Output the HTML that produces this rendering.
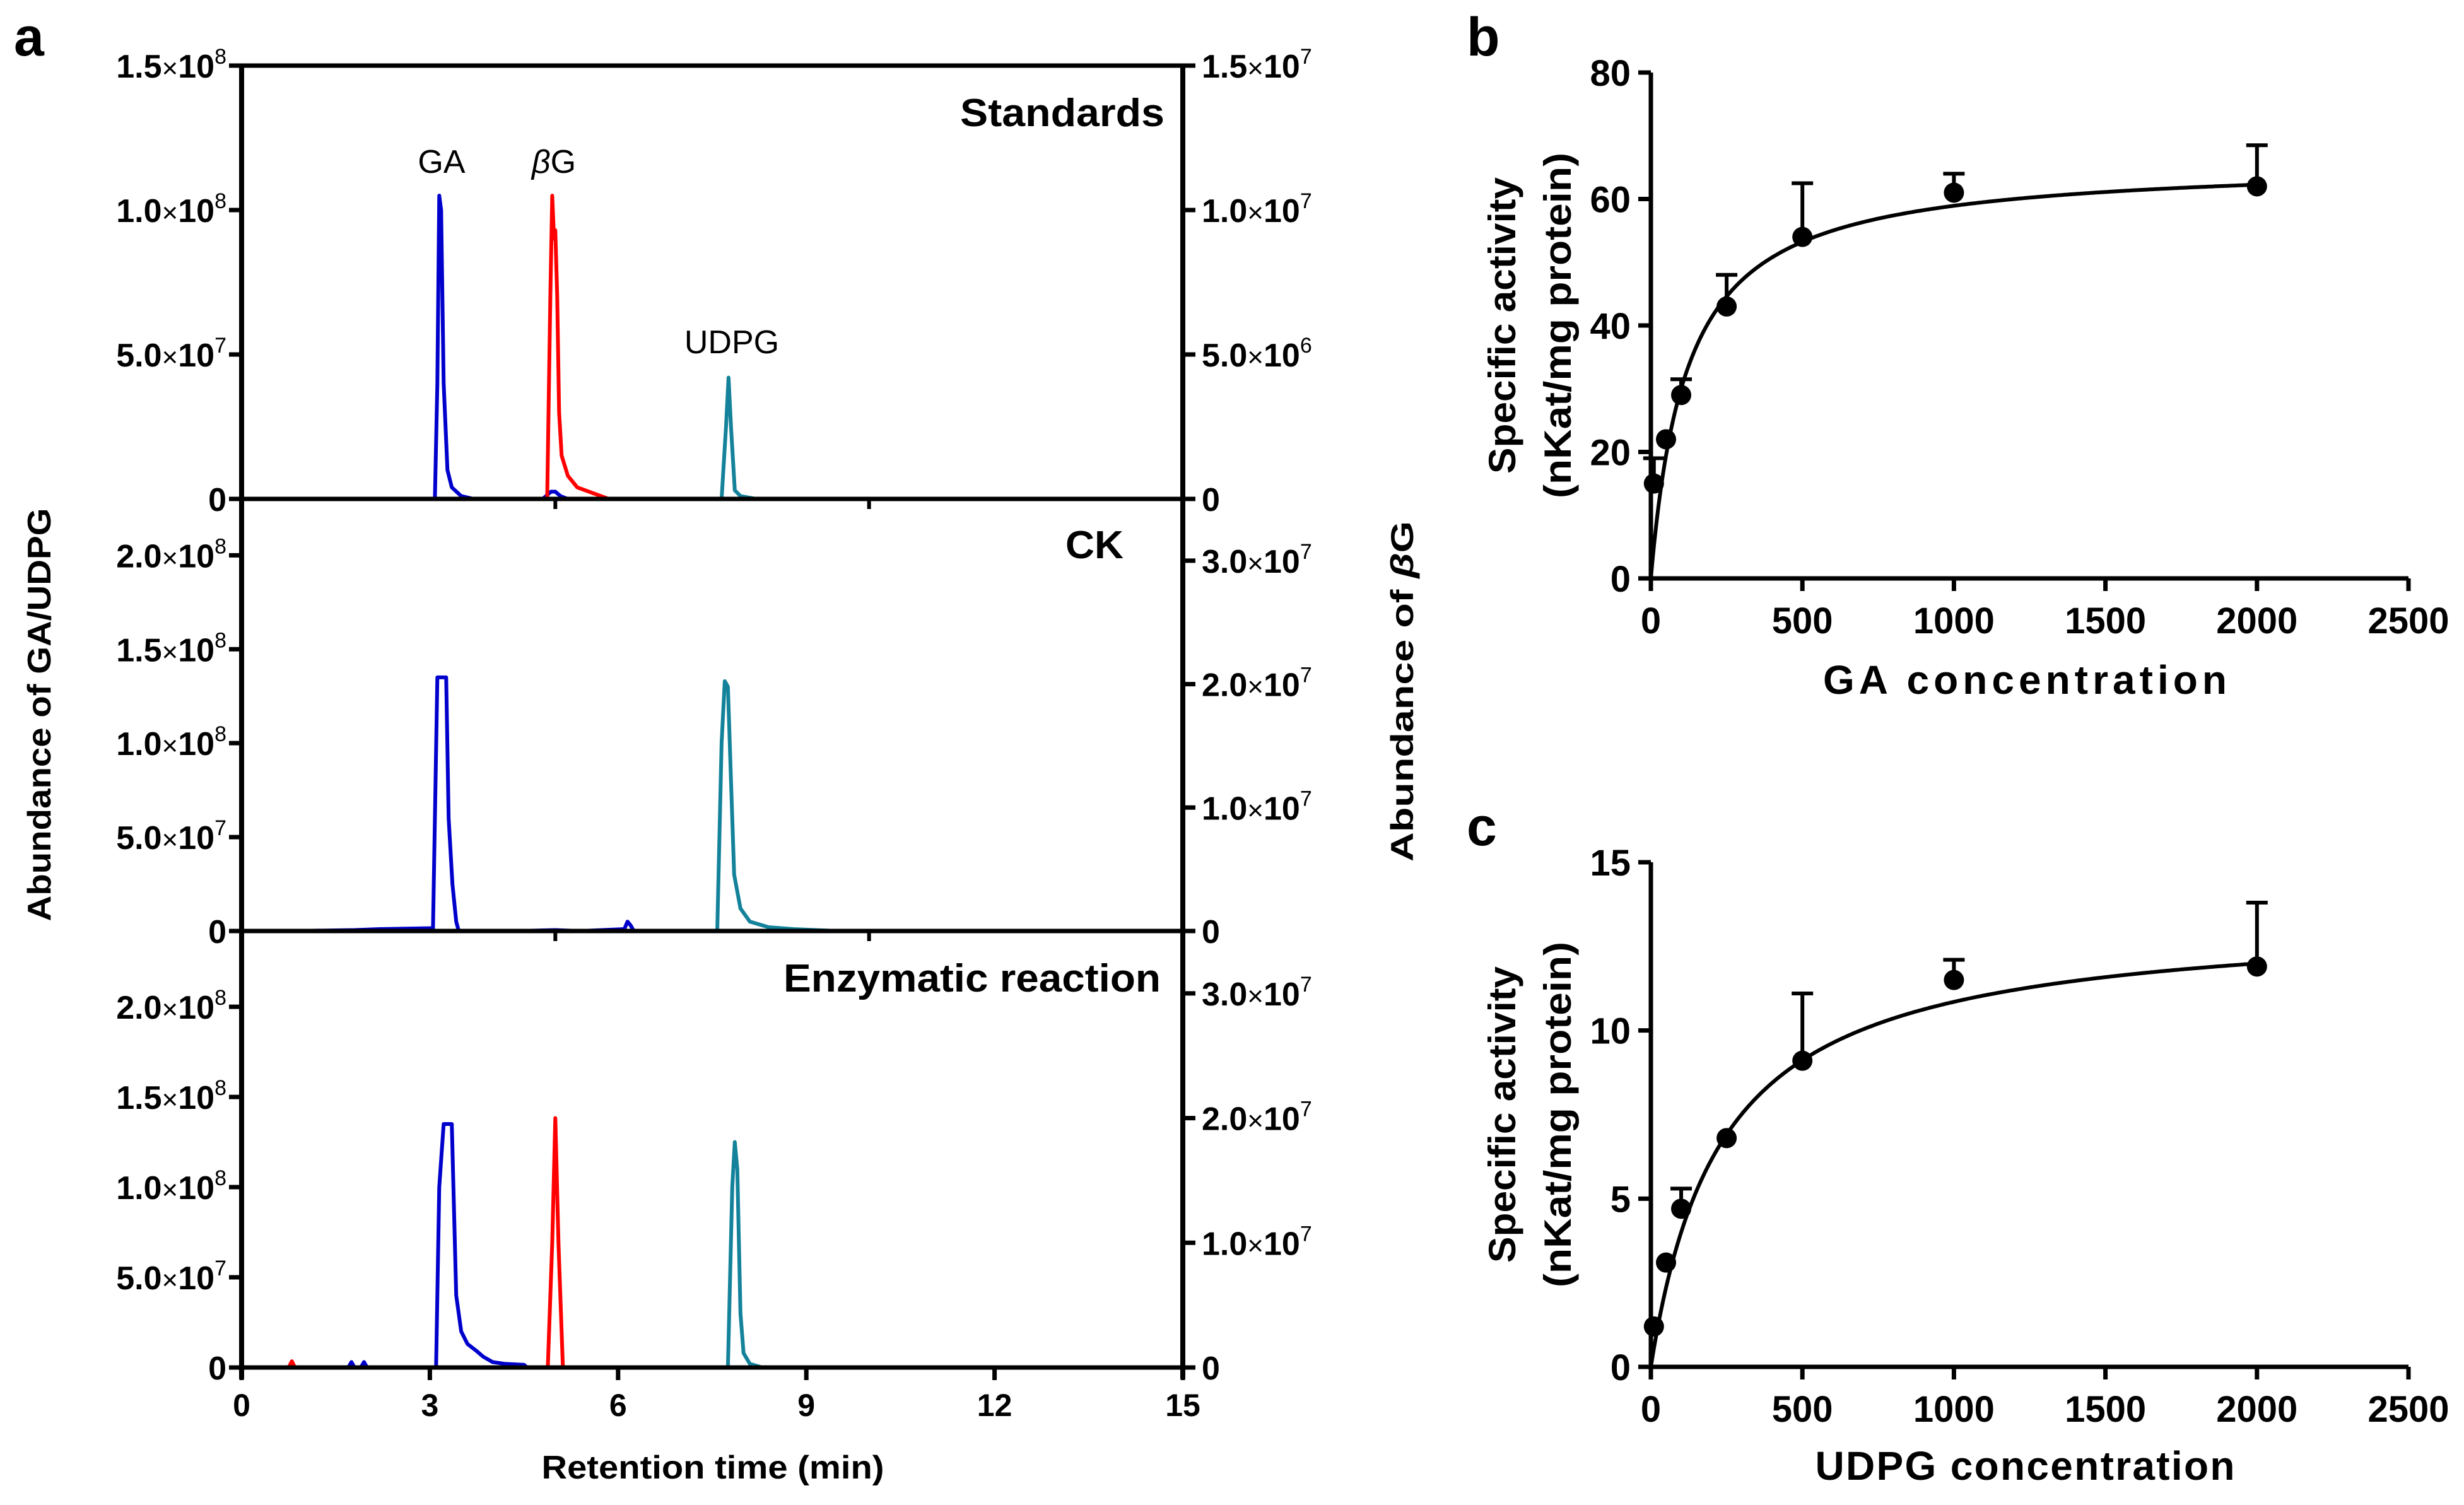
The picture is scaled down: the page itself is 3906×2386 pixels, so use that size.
<!DOCTYPE html>
<html><head><meta charset="utf-8"><style>
html,body{margin:0;padding:0;background:#fff}
svg{display:block}
text{font-family:"Liberation Sans",Arial,sans-serif}
</style></head><body>
<svg id="fig" width="3906" height="2386" viewBox="0 0 3906 2386" xmlns="http://www.w3.org/2000/svg">
<rect width="3906" height="2386" fill="#fff"/>
<g id="pa"></g>
<g id="pb"></g>
<g id="pc"></g>
</svg>
<script>
// ===== Panel a data (retention time min, abundance) =====
const timeTicks = [0,3,6,9,12,15];
const stdLeftTicks = [0,5e7,1e8,1.5e8];
const stdRightTicks = [0,5e6,1e7,1.5e7];
const ckLeftTicks = [0,5e7,1e8,1.5e8,2e8];
const ckRightTicks = [0,1e7,2e7,3e7];
const enzLeftTicks = [0,5e7,1e8,1.5e8,2e8];
const enzRightTicks = [0,1e7,2e7,3e7];
// Standards
const stdGA_t = [0,3.08,3.12,3.15,3.18,3.22,3.28,3.35,3.5,3.7,4.8,4.93,5.0,5.08,5.2,6];
const stdGA_v = [0,0,4e7,1.05e8,1.0e8,4e7,1e7,4e6,1e6,0,0,2.5e6,2.5e6,1e6,0,0];
const stdBG_t = [4.8,4.87,4.92,4.95,4.98,5.0,5.03,5.06,5.1,5.2,5.35,5.6,5.85,6.0];
const stdBG_v = [0,0,7e6,1.05e7,9e6,9.3e6,7e6,3e6,1.5e6,8e5,4e5,2e5,0,0];
const stdUD_t = [7.5,7.65,7.72,7.76,7.8,7.86,7.95,8.2];
const stdUD_v = [0,0,2.5e7,4.2e7,2.5e7,3e6,1e6,0];
// CK
const ckGA_t = [0,0.7,0.8,1.8,2.2,3.05,3.12,3.16,3.26,3.3,3.36,3.42,3.46,4.4,5.0,5.4,6.1,6.15,6.2,6.25,7.0];
const ckGA_v = [0,0,0,5e5,1e6,1.5e6,1.35e8,1.35e8,1.35e8,6e7,2.5e7,5e6,0,0,5e5,0,1e6,5e6,3e6,0,0];
const ckUD_t = [7.4,7.58,7.65,7.7,7.75,7.8,7.85,7.95,8.1,8.4,8.8,9.5];
const ckUD_v = [0,0,1.0e8,1.33e8,1.3e8,8e7,3e7,1.2e7,5e6,2e6,1e6,0];
// Enzymatic reaction
const enGA_t = [0,1.7,1.75,1.8,1.9,1.95,2.0,3.1,3.15,3.22,3.35,3.42,3.5,3.6,3.75,3.85,4.0,4.2,4.5,4.55,7.8];
const enGA_v = [0,0,3e6,0,0,3e6,0,0,1.0e8,1.35e8,1.35e8,4e7,2e7,1.3e7,9e6,6e6,3e6,2e6,1.5e6,0,0];
const enBG_t = [0.75,0.8,0.85,4.88,4.95,5.0,5.05,5.12,5.2];
const enBG_v = [0,5e5,0,0,1e7,2.0e7,1e7,0,0];
const enUD_t = [7.6,7.75,7.82,7.86,7.9,7.95,8.0,8.1,8.3,13.0];
const enUD_v = [0,0,1.0e8,1.25e8,1.1e8,3e7,8e6,2e6,0,0];

// ===== Panel b / c data =====
const concX = [10,50,100,250,500,1000,2000];
const gaActivity = [15,22,29,43,54,61,62];
const gaErrTop = [19,22,31.5,48,62.5,64,68.5];
const udpgActivity = [1.2,3.1,4.7,6.8,9.1,11.5,11.9];
const udpgErrTop = [1.2,3.1,5.3,7.0,11.1,12.1,13.8];
const gaFit = [66,120];     // Vmax, Km
const udpgFit = [13.4,235];
const concTicks = [0,500,1000,1500,2000,2500];
const gaYTicks = [0,20,40,60,80];
const udpgYTicks = [0,5,10,15];

const NS='http://www.w3.org/2000/svg';
function mk(parent,tag,attrs,txt){const e=document.createElementNS(NS,tag);for(const k in attrs)e.setAttribute(k,attrs[k]);if(txt!==undefined)e.textContent=txt;parent.appendChild(e);return e;}
function fmtSci(v){if(v===0)return null;const ex=Math.floor(Math.log10(v)+1e-9);const m=(v/Math.pow(10,ex)).toFixed(1);return [m,ex];}

// ===== Panel a =====
const pa=document.getElementById('pa');
const AX0=383, AX1=1875;
const xT=t=>AX0+(t/15)*(AX1-AX0);
const panels=[
 {name:'standards',top:104,bot:791,lmax:1.5e8,rmax:1.5e7,lt:stdLeftTicks,rt:stdRightTicks,
  series:[[stdGA_t,stdGA_v,'#0000cc','L','ga-trace'],[stdBG_t,stdBG_v,'#ff0000','R','beta-g-trace'],[stdUD_t,stdUD_v,'#14829a','L','udpg-trace']]},
 {name:'ck',top:791,bot:1476,lmax:2.3e8,rmax:3.5e7,lt:ckLeftTicks,rt:ckRightTicks,
  series:[[ckGA_t,ckGA_v,'#0000cc','L','ga-trace'],[ckUD_t,ckUD_v,'#14829a','L','udpg-trace']]},
 {name:'enzymatic',top:1476,bot:2168,lmax:2.42e8,rmax:3.5e7,lt:enzLeftTicks,rt:enzRightTicks,
  series:[[enUD_t,enUD_v,'#14829a','L','udpg-trace'],[enBG_t,enBG_v,'#ff0000','R','beta-g-trace'],[enGA_t,enGA_v,'#0000cc','L','ga-trace']]}
];
function sciLabel(g,x,y,anchor,v,name){
  const t=mk(g,'text',{x:x,y:y,'text-anchor':anchor,'font-size':52,'font-weight':'bold'});
  
  
  const f=fmtSci(v);
  if(!f){t.textContent='0';}else{mk(t,'tspan',{},f[0]);mk(t,'tspan',{'font-weight':'normal','font-size':44},'×');mk(t,'tspan',{},'10');mk(t,'tspan',{dy:-22,'font-size':34,'font-weight':'normal'},String(f[1]));}
}
panels.forEach(p=>{
  const g=mk(pa,'g',{});
  
  
  const yL=v=>p.bot-(v/p.lmax)*(p.bot-p.top);
  const yR=v=>p.bot-(v/p.rmax)*(p.bot-p.top);
  p.series.forEach(s=>{
    const [ts,vs,col,ax,nm]=s;
    const pts=ts.map((t,i)=>xT(t).toFixed(1)+','+(ax==='L'?yL(vs[i]):yR(vs[i])).toFixed(1)).join(' ');
    const pl=mk(g,'polyline',{points:pts,fill:'none',stroke:col,'stroke-width':6,'stroke-linejoin':'round'});
    
    
  });
  p.lt.forEach(v=>{
    const y=yL(v);
    mk(g,'line',{x1:AX0-20,x2:AX0,y1:y,y2:y,stroke:'#000','stroke-width':7});
    sciLabel(g,AX0-24,y+19,'end',v,'left-tick-label');
  });
  p.rt.forEach(v=>{
    const y=yR(v);
    mk(g,'line',{x1:AX1,x2:AX1+20,y1:y,y2:y,stroke:'#000','stroke-width':7});
    sciLabel(g,AX1+30,y+19,'start',v,'right-tick-label');
  });
  mk(g,'line',{x1:AX0-20,x2:AX1+20,y1:p.bot,y2:p.bot,stroke:'#000','stroke-width':7});
  if(p.name!=='enzymatic'){
    [5,10].forEach(t=>mk(g,'line',{x1:xT(t),x2:xT(t),y1:p.bot,y2:p.bot+16,stroke:'#000','stroke-width':6}));
  }
});
mk(pa,'line',{x1:AX0,x2:AX1,y1:104,y2:104,stroke:'#000','stroke-width':7});
mk(pa,'line',{x1:AX0,x2:AX0,y1:101,y2:2186,stroke:'#000','stroke-width':8});
mk(pa,'line',{x1:AX1,x2:AX1,y1:101,y2:2186,stroke:'#000','stroke-width':8});
timeTicks.forEach(t=>{
  mk(pa,'line',{x1:xT(t),x2:xT(t),y1:2168,y2:2188,stroke:'#000','stroke-width':7});
  const tx=mk(pa,'text',{x:xT(t),y:2245,'text-anchor':'middle','font-size':50,'font-weight':'bold'},String(t));
  
  
});
</script>
<script>
// ===== Panels b and c =====
function kinetic(gid,top,bot,ymax,yTicks,xs,ys,errs,fit,xtitle,titleY,titleW,letter,letterY){
  const g=document.getElementById(gid);
  const X0=2617,X1=3818;
  const xS=v=>X0+(v/2500)*(X1-X0);
  const yS=v=>bot-(v/ymax)*(bot-top);
  mk(g,'line',{x1:X0,x2:X0,y1:top,y2:bot+20,stroke:'#000','stroke-width':7});
  mk(g,'line',{x1:X0-20,x2:X1,y1:bot,y2:bot,stroke:'#000','stroke-width':7});
  yTicks.forEach(v=>{
    mk(g,'line',{x1:X0-20,x2:X0,y1:yS(v),y2:yS(v),stroke:'#000','stroke-width':7});
    const t=mk(g,'text',{x:X0-32,y:yS(v)+21,'text-anchor':'end','font-size':58,'font-weight':'bold'},String(v));
    
    
  });
  concTicks.forEach(v=>{
    mk(g,'line',{x1:xS(v),x2:xS(v),y1:bot,y2:bot+20,stroke:'#000','stroke-width':7});
    const t=mk(g,'text',{x:xS(v),y:bot+87,'text-anchor':'middle','font-size':58,'font-weight':'bold'},String(v));
    
    
  });
  let d='';
  for(let i=0;i<=400;i++){const c=i*5;const v=fit[0]*c/(fit[1]+c);d+=(i?'L':'M')+xS(c).toFixed(1)+','+yS(v).toFixed(1);}
  const cu=mk(g,'path',{d:d,fill:'none',stroke:'#000','stroke-width':6});
  
  
  xs.forEach((c,i)=>{
    if(errs[i]>ys[i]+0.3){
      const e=mk(g,'path',{d:`M${xS(c)},${yS(ys[i])}V${yS(errs[i])}M${xS(c)-17},${yS(errs[i])}H${xS(c)+17}`,stroke:'#000','stroke-width':6,fill:'none'});
      
      
    }
    const dot=mk(g,'circle',{cx:xS(c),cy:yS(ys[i]),r:16,fill:'#000'});
    
    
  });
  const xt=mk(g,'text',{x:3210,y:titleY,'text-anchor':'middle','font-size':64,'font-weight':'bold',textLength:titleW,lengthAdjust:'spacing'},xtitle);
  
  
  const cy=(top+bot)/2;
  const y1=mk(g,'text',{x:0,y:0,transform:`translate(2402,${cy}) rotate(-90)`,'text-anchor':'middle','font-size':60,'font-weight':'bold',textLength:470,lengthAdjust:'spacingAndGlyphs'},'Specific activity');
  
  
  const y2=mk(g,'text',{x:0,y:0,transform:`translate(2490,${cy}) rotate(-90)`,'text-anchor':'middle','font-size':60,'font-weight':'bold',textLength:548,lengthAdjust:'spacingAndGlyphs'},'(nKat/mg protein)');
  
  
  const l=mk(g,'text',{x:2325,y:letterY,'font-size':86,'font-weight':'bold'},letter);
  
  
}
kinetic('pb',115,917,80,gaYTicks,concX,gaActivity,gaErrTop,gaFit,'GA  concentration',1100,640,'b',88);
kinetic('pc',1367,2167,15,udpgYTicks,concX,udpgActivity,udpgErrTop,udpgFit,'UDPG  concentration',2346,665,'c',1340);
</script>
<script>
(function(){
const pa=document.getElementById('pa');
function T(name,attrs,txt){const t=mk(pa,'text',attrs,txt);return t;}
T('panel-letter',{x:22,y:88,'font-size':86,'font-weight':'bold'},'a');
T('panel-title-standards',{x:1846,y:200,'text-anchor':'end','font-size':62,'font-weight':'bold',textLength:324,lengthAdjust:'spacingAndGlyphs'},'Standards');
T('panel-title-ck',{x:1781,y:885,'text-anchor':'end','font-size':62,'font-weight':'bold',textLength:92,lengthAdjust:'spacingAndGlyphs'},'CK');
T('panel-title-enzymatic',{x:1840,y:1572,'text-anchor':'end','font-size':62,'font-weight':'bold',textLength:598,lengthAdjust:'spacingAndGlyphs'},'Enzymatic reaction');
T('peak-label-ga',{x:700,y:274,'text-anchor':'middle','font-size':52},'GA');
const bg=T('peak-label-beta-g',{x:878,y:274,'text-anchor':'middle','font-size':52});
mk(bg,'tspan',{'font-style':'italic'},'β');mk(bg,'tspan',{},'G');
T('peak-label-udpg',{x:1160,y:560,'text-anchor':'middle','font-size':52},'UDPG');
T('x-axis-title',{x:1130,y:2344,'text-anchor':'middle','font-size':52,'font-weight':'bold',textLength:543,lengthAdjust:'spacingAndGlyphs'},'Retention time (min)');
T('y-axis-title-left',{x:0,y:0,transform:'translate(80,1133) rotate(-90)','text-anchor':'middle','font-size':52,'font-weight':'bold',textLength:655,lengthAdjust:'spacingAndGlyphs'},'Abundance of GA/UDPG');
const r=T('y-axis-title-right',{x:0,y:0,transform:'translate(2240,1096) rotate(-90)','text-anchor':'middle','font-size':50,'font-weight':'bold',textLength:540,lengthAdjust:'spacingAndGlyphs'});
mk(r,'tspan',{},'Abundance of ');mk(r,'tspan',{'font-style':'italic'},'β');mk(r,'tspan',{},'G');
})();
</script>
</body></html>
